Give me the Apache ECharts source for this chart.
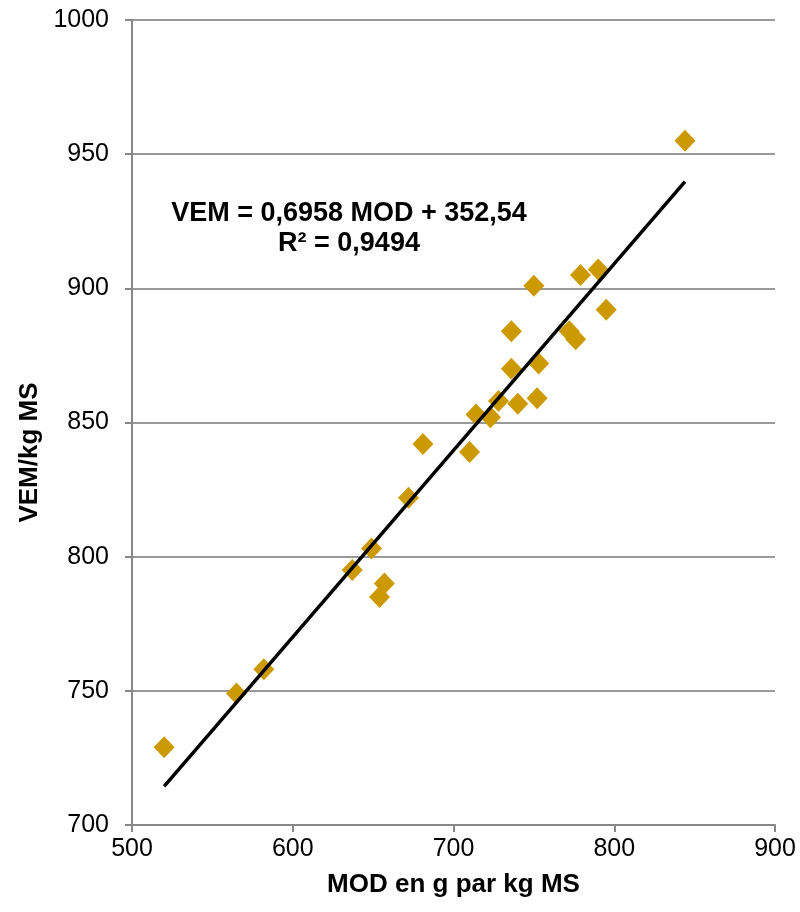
<!DOCTYPE html>
<html lang="fr">
<head>
    <meta charset="UTF-8">
    <title>VEM / MOD</title>
    <script src="https://cdn.jsdelivr.net/npm/echarts@6/dist/echarts.min.js"></script>
    <style>
        html, body { margin: 0; padding: 0; background: #fff; }
    </style>
</head>
<body>
<div id="main" style="width: 800px;height: 912px"></div>
<script>
    // MOD (g/kg MS) et VEM/kg MS
    var mod = [844, 790, 779, 750, 795, 736, 772, 776, 736, 753, 728, 740, 752, 714, 723,
        681, 710, 672, 649, 637, 657, 654, 582, 565, 520];
    var vem = [955, 907, 905, 901, 892, 884, 884, 881, 870, 872, 858, 857, 859, 853, 852,
        842, 839, 822, 803, 795, 790, 785, 758, 749, 729];

    // droite de regression (Excel)
    var slope = 0.6958;
    var intercept = 352.54;
    var trendX = [520, 844];
    var eqLines = ['VEM = 0,6958 MOD + 352,54', 'R² = 0,9494'];

    var points = [];
    for (var i = 0; i < mod.length; i++) {
        points.push([mod[i], vem[i]]);
    }
    var trend = [];
    for (var k = 0; k < trendX.length; k++) {
        trend.push([trendX[k], slope * trendX[k] + intercept]);
    }

    var fontFam = '"Liberation Sans", Arial, sans-serif';
    var myChart = echarts.init(document.getElementById('main'));

    var option = {
        animation: false,
        backgroundColor: '#fff',
        grid: {
            left: 132,
            right: 25,
            top: 20,
            bottom: 87
        },
        xAxis: {
            type: 'value',
            min: 500,
            max: 900,
            interval: 100,
            name: 'MOD en g par kg MS',
            nameLocation: 'middle',
            nameGap: 47,
            nameTextStyle: { fontFamily: fontFam, fontSize: 26, fontWeight: 'bold', color: '#000' },
            axisLine: { show: true, onZero: false, lineStyle: { color: '#888', width: 2 } },
            axisTick: { show: true, length: 7, lineStyle: { color: '#888', width: 2 } },
            axisLabel: { fontFamily: fontFam, fontSize: 25, color: '#000', margin: 12 },
            splitLine: { show: false }
        },
        yAxis: {
            type: 'value',
            min: 700,
            max: 1000,
            interval: 50,
            name: 'VEM/kg MS',
            nameLocation: 'middle',
            nameGap: 88,
            nameTextStyle: { fontFamily: fontFam, fontSize: 26, fontWeight: 'bold', color: '#000', padding: [0, 60, 0, 0] },
            axisLine: { show: true, onZero: false, lineStyle: { color: '#888', width: 2 } },
            axisTick: { show: true, length: 7, lineStyle: { color: '#888', width: 2 } },
            axisLabel: {
                fontFamily: fontFam, fontSize: 25, color: '#000', margin: 23,
                formatter: function (v) { return String(v); }
            },
            splitLine: { show: true, lineStyle: { color: '#999', width: 2 } }
        },
        graphic: [{
            type: 'text',
            x: 349,
            y: 199,
            style: {
                text: eqLines.join('\n'),
                fontFamily: fontFam,
                fontSize: 27,
                fontWeight: 'bold',
                fill: '#000',
                align: 'center',
                verticalAlign: 'top',
                lineHeight: 30
            }
        }],
        series: [{
            name: 'VEM',
            type: 'scatter',
            data: points,
            symbol: 'diamond',
            symbolSize: [21, 22],
            itemStyle: { color: '#cc9900', opacity: 1 },
            z: 3
        }, {
            name: 'Tendance',
            type: 'line',
            data: trend,
            showSymbol: false,
            symbol: 'none',
            lineStyle: { color: '#000', width: 3.5 },
            z: 4
        }]
    };
    myChart.setOption(option);
</script>
</body>
</html>
